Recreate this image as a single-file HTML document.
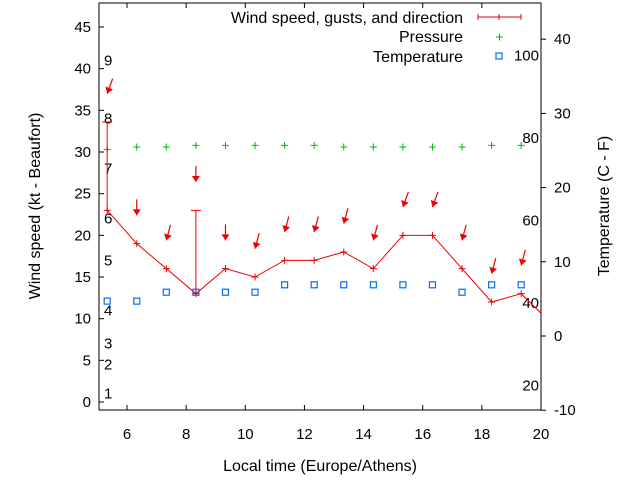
<!DOCTYPE html>
<html><head><meta charset="utf-8"><style>
html,body{margin:0;padding:0;background:#fff;}
svg{display:block;font-family:"Liberation Sans",sans-serif;}
</style></head><body>
<svg id="chart" width="640" height="480" viewBox="0 0 640 480" xmlns="http://www.w3.org/2000/svg">
<g id="axes"></g>
<g id="marks"></g>
<text x="0" y="0" transform="translate(40,206) rotate(-90)" text-anchor="middle" font-size="16">Wind speed (kt - Beaufort)</text>
<text x="0" y="0" transform="translate(609,206) rotate(-90)" text-anchor="middle" font-size="16">Temperature (C - F)</text>
<text x="320" y="471" text-anchor="middle" font-size="16">Local time (Europe/Athens)</text>
<g font-size="16">
<text x="463" y="23" text-anchor="end">Wind speed, gusts, and direction</text>
<g stroke="#e00" stroke-width="1"><line x1="478" y1="17" x2="521" y2="17"/><line x1="478" y1="14" x2="478" y2="20"/><line x1="521" y1="14" x2="521" y2="20"/><line x1="499" y1="14" x2="499" y2="20"/></g>
<text x="463" y="42" text-anchor="end">Pressure</text>
<g stroke="#0b0"><line x1="496" y1="37" x2="503" y2="37"/><line x1="499.5" y1="33.5" x2="499.5" y2="40.5"/></g>
<text x="463" y="62" text-anchor="end">Temperature</text>
<rect x="496" y="53" width="6" height="6" fill="none" stroke="#0070f0" stroke-width="1.2"/>
</g>
</svg>
<script>
const times=[5.33,6.33,7.33,8.33,9.33,10.33,11.33,12.33,13.33,14.33,15.33,16.33,17.33,18.33,19.33,20.1];
const speeds=[23,19,16,13,16,15,17,17,18,16,20,20,16,12,13,10.3];
const gusts=[33.6,19,16,23,16,15,17,17,18,16,20,20,16,12,13];
const dirs=[20,0,15,0,0,15,15,15,15,15,20,20,15,15,15];
const pressure=[30.3,30.6,30.6,30.8,30.8,30.8,30.8,30.8,30.6,30.6,30.6,30.6,30.6,30.8,30.8];
const tempC=[4.7,4.7,5.9,5.9,5.9,5.9,6.9,6.9,6.9,6.9,6.9,6.9,5.9,6.9,6.9];
const xTicks=[6,8,10,12,14,16,18,20];
const yTicks=[0,5,10,15,20,25,30,35,40,45];
const y2Ticks=[-10,0,10,20,30,40];
const beaufort=[1,2,3,4,5,6,7,8,9];
const beaufortKt=[1,4.5,7,11,17,22,28,34,41];
const fTicks=[20,40,60,80,100];

const X0=99,X1=541,Y0=410,Y1=3;
const xs=t=>127+(t-6)*(541-127)/14;
const ys=v=>402-v*(375/45);
const y2s=c=>336-c*7.42;
const NS="http://www.w3.org/2000/svg";
function mk(tag,attrs,parent){const e=document.createElementNS(NS,tag);for(const k in attrs)e.setAttribute(k,attrs[k]);parent.appendChild(e);return e;}
const axes=document.getElementById('axes'),marks=document.getElementById('marks');

const frame=mk('rect',{x:X0,y:Y1,width:X1-X0,height:Y0-Y1,fill:'none',stroke:'#000','stroke-width':1},axes);


xTicks.forEach(t=>{
  const x=xs(t);
  const tk=mk('path',{d:`M${x},${Y0}v-5M${x},${Y1}v5`,stroke:'#000'},axes);
  
  
  const l=mk('text',{x:x,y:Y0+29,'text-anchor':'middle','font-size':15},axes);l.textContent=t;
  
  
});
yTicks.forEach(v=>{
  const y=ys(v);
  const tk=mk('path',{d:`M${X0},${y}h5`,stroke:'#000'},axes);
  
  
  const l=mk('text',{x:X0-8,y:y+5,'text-anchor':'end','font-size':15},axes);l.textContent=v;
  
  
});
y2Ticks.forEach(c=>{
  const y=y2s(c);
  const tk=mk('path',{d:`M${X1},${y}h5`,stroke:'#000'},axes);
  
  
  const l=mk('text',{x:X1+13,y:y+5,'text-anchor':'start','font-size':15},axes);l.textContent=c;
  
  
});
beaufort.forEach((b,i)=>{
  const l=mk('text',{x:104,y:ys(beaufortKt[i])+5,'font-size':15},axes);l.textContent=b;
  
  
});
fTicks.forEach(f=>{
  const l=mk('text',{x:539,y:y2s((f-32)*5/9)+5,'text-anchor':'end','font-size':15},axes);l.textContent=f;
  
  
});

const clip=mk('clipPath',{id:'pc'},marks);mk('rect',{x:X0,y:Y1,width:X1-X0,height:Y0-Y1},clip);
tempC.forEach((c,i)=>{
  const r=mk('rect',{x:xs(times[i])-3,y:y2s(c)-3,width:6,height:6,fill:'none',stroke:'#0070f0','stroke-width':1.2},marks);
  
  
});
pressure.forEach((p,i)=>{
  const x=xs(times[i]),y=ys(p);
  const pp=mk('path',{d:`M${x-3.5},${y}h7M${x},${y-3.5}v7`,stroke:'#0b0'},marks);
  
  
});
const ln=mk('polyline',{points:times.map((t,i)=>xs(t)+','+ys(speeds[i])).join(' '),fill:'none',stroke:'#e00','stroke-width':1,'clip-path':'url(#pc)'},marks);


gusts.forEach((g,i)=>{
  const x=xs(times[i]),y=ys(speeds[i]);
  const m=mk('path',{d:`M${x-3.5},${y}h7M${x},${y-3.5}v7`,stroke:'#e00'},marks);
  
  
  if(g>speeds[i]){
    const yg=ys(g);
    const eb=mk('path',{d:`M${x},${y}V${yg}M${x-5},${yg}h10`,stroke:'#e00'},marks);
    
    
  }
  const hy=ys(g+3.4),hx=x;
  const a=dirs[i]*Math.PI/180,L=16;
  const tx=hx+L*Math.sin(a),ty=hy-L*Math.cos(a);
  const ux=(hx-tx)/L,uy=(hy-ty)/L;
  const bx=hx-ux*6,by=hy-uy*6;
  const g2=mk('g',{},marks);
  
  
  mk('line',{x1:tx,y1:ty,x2:hx,y2:hy,stroke:'#e00','stroke-width':1.2},g2);
  mk('polygon',{points:`${hx},${hy} ${bx-uy*4},${by+ux*4} ${bx+uy*4},${by-ux*4}`,fill:'#e00'},g2);
});
</script>
</body></html>
